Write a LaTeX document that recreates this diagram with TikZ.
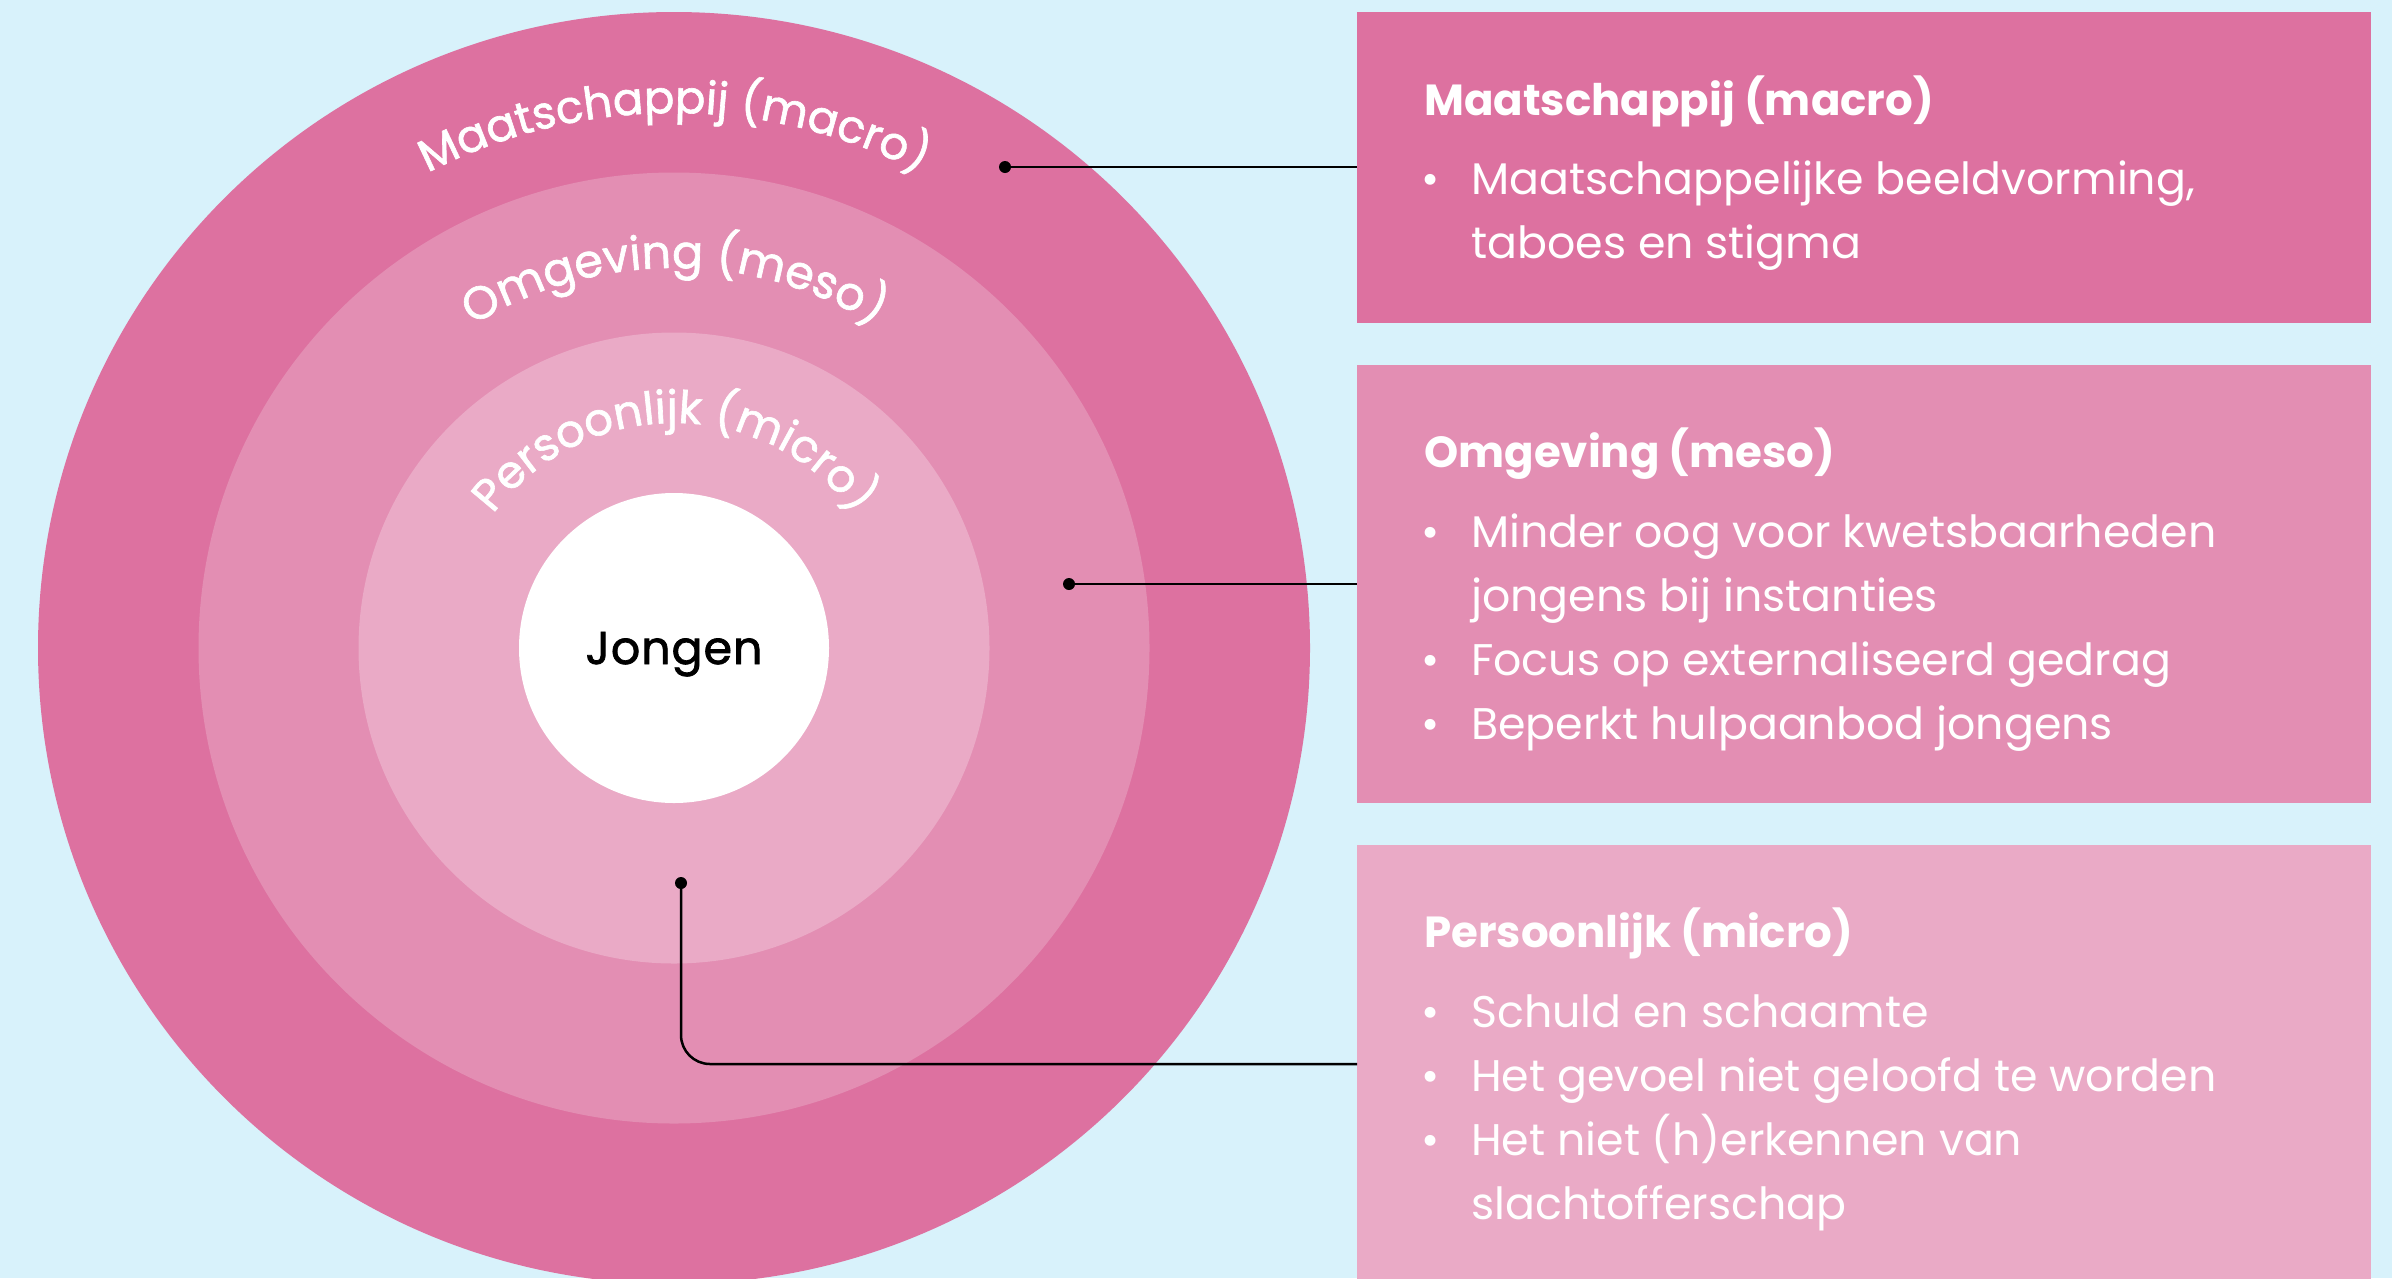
\documentclass[tikz,border=0pt]{standalone}
\usepackage{fontspec}
\setmainfont{Poppins}
\newfontfamily\jfont[LetterSpace=2,FakeBold=1.6]{Poppins}
\newfontfamily\arcfnt[FakeBold=1.4]{Poppins}
\usetikzlibrary{decorations.text,calc}
\definecolor{bgblue}{HTML}{D8F2FB}
\definecolor{pinkA}{HTML}{DD71A0}
\definecolor{pinkB}{HTML}{E38EB3}
\definecolor{pinkC}{HTML}{EAAAC6}
\begin{document}
\begin{tikzpicture}[x=1pt,y=1pt,
  disc/.style={circle, inner sep=0pt, draw=none, minimum size=#1},
  panel/.style={anchor=north west, inner sep=0pt, draw=none, minimum width=1014pt, minimum height=#1},
  ptitle/.style={anchor=base west, inner sep=0pt, text=white, font=\bfseries\fontsize{43.5}{43.5}\selectfont},
  pline/.style={anchor=base west, inner sep=0pt, text=white, font=\fontsize{44.3}{44.3}\selectfont},
  pbullet/.style={anchor=base, inner sep=0pt, text=white, font=\fontsize{44}{44}\selectfont},
  conn/.style={line width=2.5pt, black},
  dotmark/.style={black},
  arctext/.style 2 args={decorate, decoration={text effects along path, text={#2}, text align=center,
     text effects/.cd, text along path, characters={text=white, inner sep=0pt, font=\arcfnt\fontsize{#1}{#1}\selectfont}}}
]
\useasboundingbox (0,0) rectangle (2392,-1278);
\fill[bgblue] (0,0) rectangle (2392,-1278);

\coordinate (C) at (674,-648);
\node[disc=1272pt, fill=pinkA] (macro) at (C) {};
\node[disc=951pt, fill=pinkB] (meso) at (C) {};
\node[disc=631pt, fill=pinkC] (micro) at (C) {};
\node[disc=310pt, fill=white] (core) at (C) {};
\node[anchor=base, inner sep=0pt, font=\jfont\fontsize{46}{46}\selectfont] (jongen) at (674,-664) {Jongen};

% curved labels
\path[arctext={45}{Maatschappij (macro)}] ($(C)+(180:535)$) arc[start angle=180, end angle=0, radius=535];
\path[arctext={46}{Omgeving (meso)}] ($(C)+(180:380)$) arc[start angle=180, end angle=0, radius=380];
\path[arctext={45}{Persoonlijk (micro)}] ($(C)+(180:225)$) arc[start angle=180, end angle=0, radius=225];

% panels
\node[panel=311pt, fill=pinkA] (b1) at (1357,-12) {};
\node[panel=438pt, fill=pinkB] (b2) at (1357,-365) {};
\node[panel=440pt, fill=pinkC] (b3) at (1357,-845) {};

% panel 1
\node[ptitle] (t1) at (1424,-115) {Maatschappij (macro)};
\node[pbullet] (u11) at (1431,-194) {\textbullet};
\node[pline] (l11) at (1471,-194) {Maatschappelijke beeldvorming,};
\node[pline] (l12) at (1471,-258) {taboes en stigma};

% panel 2
\node[ptitle] (t2) at (1424,-467) {Omgeving (meso)};
\node[pbullet] (u21) at (1431,-547) {\textbullet};
\node[pline] (l21) at (1471,-547) {Minder oog voor kwetsbaarheden};
\node[pline] (l22) at (1471,-611) {jongens bij instanties};
\node[pbullet] (u23) at (1431,-675) {\textbullet};
\node[pline] (l23) at (1471,-675) {Focus op externaliseerd gedrag};
\node[pbullet] (u24) at (1431,-739) {\textbullet};
\node[pline] (l24) at (1471,-739) {Beperkt hulpaanbod jongens};

% panel 3
\node[ptitle] (t3) at (1424,-947) {Persoonlijk (micro)};
\node[pbullet] (u31) at (1431,-1027) {\textbullet};
\node[pline] (l31) at (1471,-1027) {Schuld en schaamte};
\node[pbullet] (u32) at (1431,-1091) {\textbullet};
\node[pline] (l32) at (1471,-1091) {Het gevoel niet geloofd te worden};
\node[pbullet] (u33) at (1431,-1155) {\textbullet};
\node[pline] (l33) at (1471,-1155) {Het niet (h)erkennen van};
\node[pline] (l34) at (1471,-1219) {slachtofferschap};

% connectors
\coordinate (d1) at (1005,-167);
\coordinate (d2) at (1069,-584);
\coordinate (d3) at (681,-883);
\coordinate (e3) at (1357,-1064);
\draw[conn] (d1) -- (d1 -| b1.west);
\draw[conn] (d2) -- (d2 -| b2.west);
\draw[conn, rounded corners=29pt] (d3) |- (e3);
\fill[dotmark] (d1) circle (6);
\fill[dotmark] (d2) circle (6);
\fill[dotmark] (d3) circle (6);
\end{tikzpicture}
\end{document}
